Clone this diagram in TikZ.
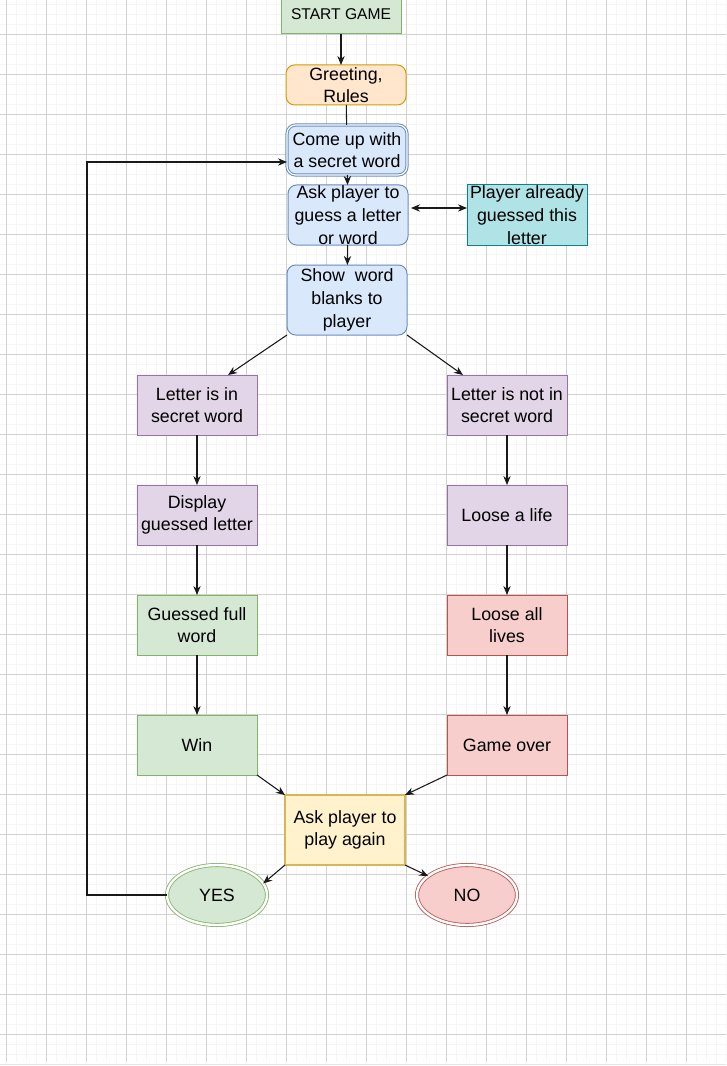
\documentclass[tikz,border=0pt]{standalone}
\usepackage{fontspec}
\setmainfont{Liberation Sans}
\usetikzlibrary{arrows.meta,
                positioning,
                shapes.geometric
                }

\definecolor{grnfill}{HTML}{D5E8D4}
\definecolor{grnline}{HTML}{82B366}
\definecolor{orgfill}{HTML}{FFE6CC}
\definecolor{orgline}{HTML}{D79B00}
\definecolor{blufill}{HTML}{DAE8FC}
\definecolor{bluline}{HTML}{6C8EBF}
\definecolor{tealfill}{HTML}{B0E3E6}
\definecolor{tealline}{HTML}{0E8088}
\definecolor{purfill}{HTML}{E1D5E7}
\definecolor{purline}{HTML}{9673A6}
\definecolor{redfill}{HTML}{F8CECC}
\definecolor{redline}{HTML}{B85450}
\definecolor{ylwfill}{HTML}{FFF2CC}
\definecolor{ylwline}{HTML}{D6B656}

\begin{document}
\begin{tikzpicture}[
    x=0.75pt, y=-0.75pt,
    box/.style = {draw, align=center, inner sep=0pt, outer sep=0pt,
                minimum width=90pt, minimum height=45pt,
                line width=0.75pt,
                font=\fontsize{13.35}{17}\selectfont},
    rbox/.style = {box, rounded corners=6.5pt},
    oval/.style = {shape=ellipse, draw, inner sep=0pt, outer sep=0pt,
                minimum width=75pt, minimum height=45pt,
                double, line width=0.6pt, double distance=1.8pt,
                font=\fontsize{13.35}{17}\selectfont},
    green/.style = {fill=grnfill, draw=grnline},
    orange/.style = {fill=orgfill, draw=orgline},
    blue/.style = {fill=blufill, draw=bluline},
    teal/.style = {fill=tealfill, draw=tealline},
    purple/.style = {fill=purfill, draw=purline},
    red/.style = {fill=redfill, draw=redline},
    yellow/.style = {fill=ylwfill, draw=ylwline},
    arr/.style = {-{Stealth[length=6.75pt, width=5.5pt]}, line width=0.8pt, black!90},
    plain/.style = {line width=0.8pt, black!90}
                    ]

\useasboundingbox (0,0) rectangle (726,1066);
\fill[white] (0,0) rectangle (726,1066);

% grid paper
\begin{scope}
\clip (0,0) rectangle (726,1062);
\foreach \gx in {-3.3,6.7,...,730} \draw[gray!7, line width=1.1pt] (\gx,0) -- (\gx,1062);
\foreach \gy in {4.3,14.3,...,1062} \draw[gray!7, line width=1.1pt] (0,\gy) -- (726,\gy);
\foreach \gx in {6.7,46.7,...,730} \draw[gray!35, line width=0.7pt] (\gx,0) -- (\gx,1062);
\foreach \gy in {34.3,74.3,...,1062} \draw[gray!35, line width=0.7pt] (0,\gy) -- (726,\gy);
\end{scope}
\draw[gray!20, line width=0.75pt] (0,1064.5) -- (726,1064.5);

\node (n1) [box, green, minimum height=30pt, font=\fontsize{11.7}{14}\selectfont] at (341,14) {START GAME};
\node (n2) [rbox, orange, minimum height=30pt] at (346,85) {Greeting,\\ Rules};
\node (n3) [rbox, blue, minimum height=37.5pt, double, line width=0.75pt, double distance=0.9pt] at (347,150) {Come up with\\ a secret word};
\node (n4) [rbox, blue] at (348,215) {Ask player to\\ guess a letter\\ or word};
\node (n5) [box, teal, right=44.25pt of n4] {Player already\\ guessed this\\ letter};
\node (n6) [rbox, blue, minimum height=52.5pt] at (347,300) {Show\ \ word\\ blanks to\\ player};

\node (n7) [box, purple] at (197,405) {Letter is in\\ secret word};
\node (n8) [box, purple] at (507,405) {Letter is not in\\ secret word};
\node (n9) [box, purple, below=37.5pt of n7] {Display\\ guessed letter};
\node (n10) [box, purple, below=37.5pt of n8] {Loose a life};
\node (n11) [box, green, below=37.5pt of n9] {Guessed full\\ word};
\node (n12) [box, red, below=37.5pt of n10] {Loose all\\ lives};
\node (n13) [box, green, below=45pt of n11] {Win};
\node (n14) [box, red, below=45pt of n12] {Game over};

\node (n15) [box, yellow, minimum height=52.5pt, line width=2pt] at (345,830) {Ask player to\\ play again};
\node (n16) [oval, green] at (217,895) {YES};
\node (n17) [oval, red] at (467,895) {NO};

\draw[arr] (n1.south) -- (n1.south |- n2.north);
\draw[plain] (n2) -- (n3);
\draw[arr] (n3) -- (n4);
\draw[{Stealth[length=6.75pt, width=5.5pt]}-{Stealth[length=6.75pt, width=5.5pt]}, line width=0.8pt, black!90, shorten <=2.25pt]
    ([yshift=5.25pt]n4.east) -- ([yshift=5.25pt]n5.west);
\draw[arr] (n4) -- (n6);
\draw[arr] (n6.south west) -- ([xshift=23.25pt]n7.north);
\draw[arr] (n6.south east) -- ([xshift=-33pt]n8.north);

\draw[arr] (n7) -- (n9);
\draw[arr] (n9) -- (n11);
\draw[arr] (n11) -- (n13);
\draw[arr] (n8) -- (n10);
\draw[arr] (n10) -- (n12);
\draw[arr] (n12) -- (n14);

\draw[arr] (n13.south east) -- (n15.north west);
\draw[arr] (n14.south west) -- (n15.north east);
\draw[arr] (n15.south west) -- (n16.14);
\draw[arr] (n15.south east) -- (n17.154);
\draw[arr] (n16.west) -- ++(-80,0) |- ([yshift=-9pt]n3.west);

\end{tikzpicture}
\end{document}
